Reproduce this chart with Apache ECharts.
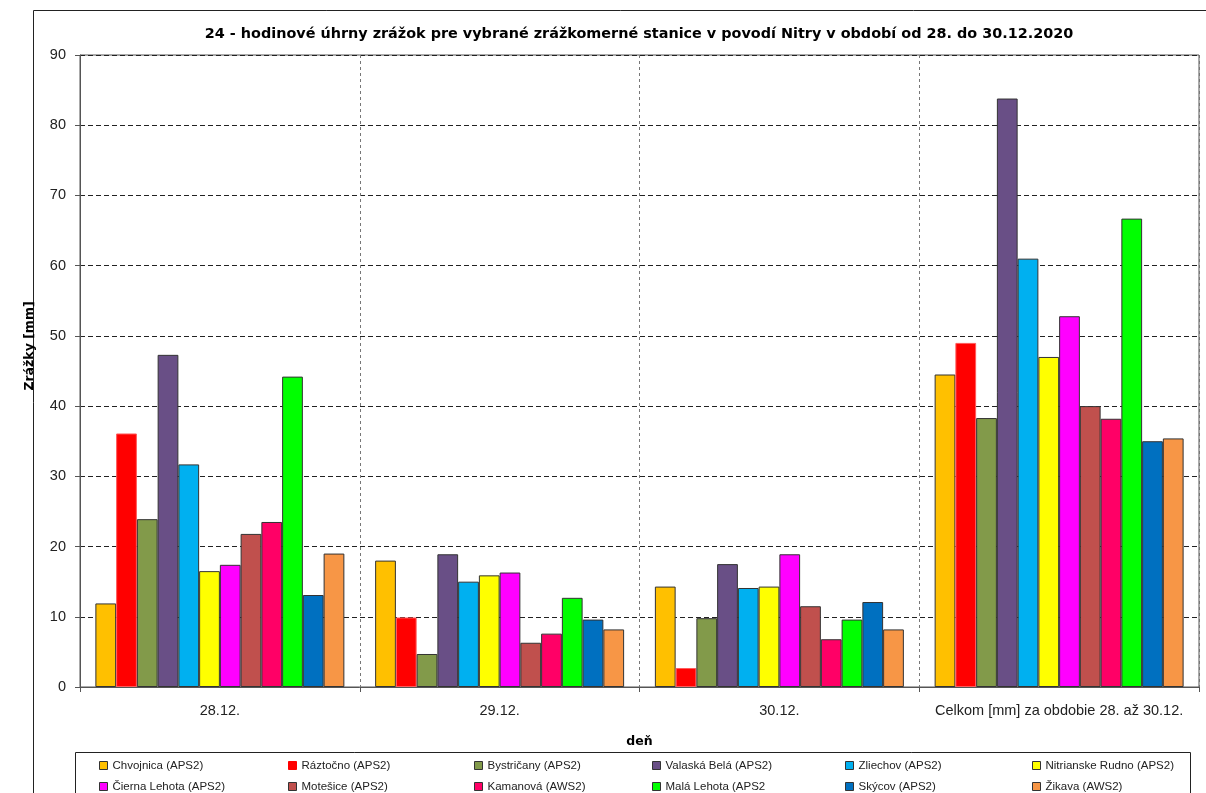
<!DOCTYPE html>
<html><head><meta charset="utf-8">
<script src="https://cdn.jsdelivr.net/npm/echarts@6/dist/echarts.min.js"></script>
<style>html,body{margin:0;padding:0;background:#fff}#c{width:1206px;height:793px}</style>
</head><body><div id="c"></div>
<script>
const categories = ['28.12.', '29.12.', '30.12.', 'Celkom [mm] za obdobie 28. až 30.12.'];
const stations = ['Chvojnica (APS2)', 'Ráztočno (APS2)', 'Bystričany (APS2)', 'Valaská Belá (APS2)', 'Zliechov (APS2)', 'Nitrianske Rudno (APS2)',
  'Čierna Lehota (APS2)', 'Motešice (APS2)', 'Kamanová (AWS2)', 'Malá Lehota (APS2', 'Skýcov (APS2)', 'Žikava (AWS2)'];
const chvojnica = [11.9, 18.0, 14.3, 44.5];
const raztocno = [36.1, 9.9, 2.7, 49.0];
const bystricany = [23.9, 4.7, 9.8, 38.3];
const valaskaBela = [47.3, 18.9, 17.5, 83.8];
const zliechov = [31.7, 15.0, 14.1, 61.0];
const nitrianskeRudno = [16.5, 15.9, 14.3, 47.0];
const ciernaLehota = [17.4, 16.3, 18.9, 52.8];
const motesice = [21.8, 6.3, 11.5, 40.0];
const kamanova = [23.5, 7.6, 6.8, 38.2];
const malaLehota = [44.2, 12.7, 9.6, 66.7];
const skycov = [13.1, 9.6, 12.1, 35.0];
const zikava = [19.0, 8.2, 8.2, 35.4];
const seriesValues = [chvojnica, raztocno, bystricany, valaskaBela, zliechov, nitrianskeRudno,
  ciernaLehota, motesice, kamanova, malaLehota, skycov, zikava];
const colors = ['#FFC000', '#FF0000', '#829A4A', '#694F86', '#00B0F0', '#FFFF00',
  '#FF00FF', '#C0504D', '#FF0066', '#00FF00', '#0070C0', '#F79646'];
const yTicks = [0, 10, 20, 30, 40, 50, 60, 70, 80, 90];

const chart = echarts.init(document.getElementById('c'), null, {renderer: 'canvas'});
const font = 'Liberation Sans';
const series = stations.map((name, i) => ({
  name: name,
  type: 'bar',
  data: seriesValues[i],
  barGap: '0%',
  barCategoryGap: '11%',
  itemStyle: {color: colors[i], borderColor: i === 1 ? '#ff5a5a' : '#333', borderWidth: 1},
  emphasis: {disabled: true}
}));
const legendCols = [99, 288, 474, 652, 845, 1032];
const legendRows = [759.5, 780.5];
const legends = stations.map((n, i) => ({
  orient: 'horizontal', itemWidth: 8, itemHeight: 8, padding: 0,
  left: legendCols[i % 6], top: legendRows[Math.floor(i / 6)],
  icon: 'rect', selectedMode: false,
  textStyle: {fontFamily: font, fontSize: 11.5, color: '#222'},
  data: [{name: n, itemStyle: {borderColor: i === 1 ? colors[1] : '#333', borderWidth: 1}}]
}));
chart.setOption({
  animation: false,
  color: colors,
  title: {
    text: '24 - hodinové úhrny zrážok pre vybrané zrážkomerné stanice v povodí Nitry v období od 28. do 30.12.2020',
    left: 634, textAlign: 'center', top: 22,
    textStyle: {fontFamily: 'DejaVu Sans', fontSize: 14.4, fontWeight: 'bold', color: '#000'}
  },
  legend: legends,
  grid: {left: 80, right: 7, top: 55, bottom: 106, containLabel: false, show: true, borderColor: '#555', borderWidth: 1, backgroundColor: 'transparent'},
  xAxis: {
    type: 'category', data: categories,
    name: 'deň', nameLocation: 'middle', nameGap: 48,
    nameTextStyle: {fontFamily: 'DejaVu Sans', fontSize: 12.5, fontWeight: 'bold', color: '#000'},
    axisLine: {lineStyle: {color: '#555', width: 1}},
    axisTick: {show: true, length: 5, interval: 0, lineStyle: {color: '#555'}},
    axisLabel: {fontFamily: font, fontSize: 14.5, color: '#222', margin: 16, interval: 0},
    splitLine: {show: true, interval: 0, lineStyle: {color: '#777', type: [3, 3], width: 1}}
  },
  yAxis: {
    type: 'value', min: yTicks[0], max: yTicks[yTicks.length - 1], interval: 10,
    name: 'Zrážky [mm]', nameLocation: 'middle', nameGap: 44, nameRotate: 90,
    nameTextStyle: {fontFamily: 'DejaVu Sans', fontSize: 12.5, fontWeight: 'bold', color: '#000', padding: [0, 0, 0, 50]},
    axisLine: {show: true, lineStyle: {color: '#555', width: 1}},
    axisTick: {show: true, length: 5, lineStyle: {color: '#555'}},
    axisLabel: {fontFamily: font, fontSize: 14.5, color: '#222', margin: 14},
    splitLine: {show: true, lineStyle: {color: '#222', type: [5, 3], width: 1}}
  },
  graphic: [
    {type: 'rect', shape: {x: 33.5, y: 10.5, width: 1200, height: 800}, style: {fill: null, stroke: '#222', lineWidth: 1}, silent: true, z: -1},
    {type: 'rect', shape: {x: 75.5, y: 752.5, width: 1115, height: 60}, style: {fill: null, stroke: '#222', lineWidth: 1}, silent: true, z: -1}
  ],
  series: series
});
</script></body></html>
